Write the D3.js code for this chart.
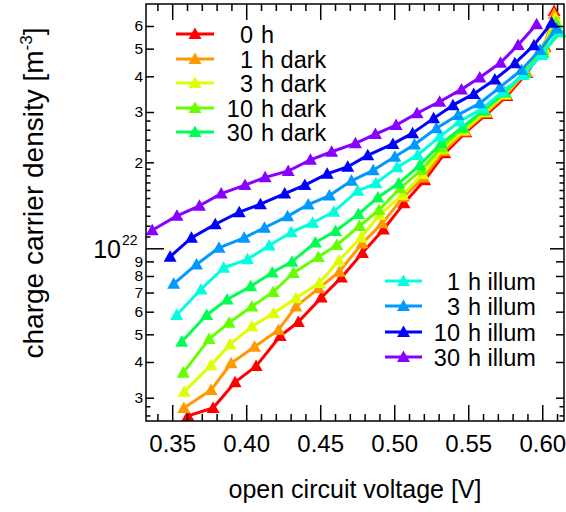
<!DOCTYPE html>
<html><head><meta charset="utf-8">
<script src="https://cdn.jsdelivr.net/npm/d3@7"></script>
<style>
body{margin:0;background:#fff}
svg{display:block}
text{font-family:"Liberation Sans",Arial,Helvetica,sans-serif;fill:#000}
</style>
</head><body><svg id="c" width="566" height="512"></svg>
<script>
// ---- data: open circuit voltage [V] and carrier density [10^22 m^-3] ----
const seriesNames = ["0 h","1 h dark","3 h dark","10 h dark","30 h dark","1 h illum","3 h illum","10 h illum","30 h illum"];
const seriesColors = ["#ff0000","#ff9900","#ddff00","#66ff00","#00ff55","#00ffdd","#0099ff","#0000ff","#8800ff"];

const v0h = [0.3606,0.3776,0.3925,0.4067,0.4230,0.4352,0.4507,0.4643,0.4785,0.4927,0.5066,0.5205,0.5341,0.5483,0.5625,0.5761,0.5896,0.6018,0.6080];
const n0h = [0.259,0.276,0.340,0.387,0.493,0.552,0.672,0.790,0.963,1.163,1.437,1.73,2.15,2.55,2.95,3.41,4.11,5.07,6.77];

const v1hDark = [0.3579,0.3762,0.3898,0.4056,0.4218,0.4336,0.4489,0.4629,0.4783,0.4919,0.5063,0.5199,0.5334,0.5476,0.5619,0.5754,0.5890,0.6011,0.6080];
const n1hDark = [0.276,0.319,0.396,0.452,0.518,0.625,0.724,0.828,1.041,1.223,1.516,1.77,2.19,2.57,2.98,3.44,4.14,5.07,6.61];

const v3hDark = [0.3581,0.3762,0.3891,0.4038,0.4184,0.4336,0.4494,0.4626,0.4776,0.4900,0.5056,0.5192,0.5327,0.5470,0.5612,0.5747,0.5883,0.6011,0.6087];
const n3hDark = [0.315,0.390,0.461,0.532,0.592,0.668,0.756,0.906,1.091,1.308,1.537,1.82,2.23,2.59,3.00,3.47,4.14,5.02,6.40];

const v10hDark = [0.3575,0.3749,0.3884,0.4038,0.4182,0.4318,0.4487,0.4612,0.4765,0.4897,0.5040,0.5183,0.5320,0.5463,0.5605,0.5747,0.5883,0.6005,0.6093];
const n10hDark = [0.367,0.481,0.549,0.626,0.703,0.820,0.932,1.027,1.197,1.362,1.622,1.88,2.26,2.62,3.02,3.50,4.14,4.94,6.19];

const v30hDark = [0.3564,0.3733,0.3871,0.4030,0.4176,0.4309,0.4467,0.4604,0.4758,0.4889,0.5030,0.5173,0.5318,0.5463,0.5605,0.5747,0.5883,0.6005,0.6120];
const n30hDark = [0.471,0.584,0.662,0.736,0.823,0.898,1.048,1.150,1.318,1.506,1.689,1.956,2.33,2.66,3.05,3.52,4.11,4.83,5.71];

const v1hIllum = [0.3530,0.3694,0.3848,0.4009,0.4155,0.4304,0.4449,0.4592,0.4753,0.4876,0.5019,0.5158,0.5307,0.5442,0.5596,0.5732,0.5871,0.5996,0.6108];
const n1hIllum = [0.584,0.718,0.855,0.915,1.023,1.138,1.229,1.343,1.589,1.689,1.92,2.12,2.46,2.78,3.09,3.53,4.04,4.75,5.74];

const v3hIllum = [0.3510,0.3664,0.3816,0.3986,0.4123,0.4279,0.4419,0.4562,0.4711,0.4858,0.5004,0.5137,0.5285,0.5431,0.5578,0.5713,0.5860,0.5984,0.6098];
const n3hIllum = [0.751,0.878,1.004,1.088,1.18,1.294,1.423,1.53,1.723,1.875,2.09,2.31,2.63,2.93,3.22,3.66,4.21,4.94,5.88];

const v10hIllum = [0.3486,0.3630,0.3791,0.3953,0.4096,0.4260,0.4396,0.4547,0.4686,0.4821,0.4991,0.5124,0.5266,0.5397,0.5537,0.5680,0.5815,0.5944,0.6064];
const n10hIllum = [0.935,1.088,1.214,1.338,1.427,1.555,1.665,1.823,1.93,2.115,2.32,2.53,2.85,3.17,3.47,3.90,4.44,5.14,6.16];

const v30hIllum = [0.3365,0.3532,0.3684,0.3831,0.3992,0.4128,0.4284,0.4434,0.4577,0.4738,0.4873,0.5013,0.5154,0.5307,0.5454,0.5578,0.5718,0.5837,0.5962];
const n30hIllum = [1.156,1.299,1.409,1.554,1.665,1.772,1.865,2.04,2.178,2.33,2.51,2.70,2.97,3.26,3.60,3.96,4.46,5.15,6.09];

const xMajorTicks = [0.35,0.40,0.45,0.50,0.55,0.60];
const xMinorTicks = [0.34,0.36,0.37,0.38,0.39,0.41,0.42,0.43,0.44,0.46,0.47,0.48,0.49,0.51,0.52,0.53,0.54,0.56,0.57,0.58,0.59,0.61];
const yLabelTicks = [0.3,0.4,0.5,0.6,0.7,0.8,0.9,2,3,4,5,6];
const yLabelText = ["3","4","5","6","7","8","9","2","3","4","5","6"];
const yMinorTicks = [0.26,0.28,1.1,1.2,1.3,1.4,1.5,1.6,1.7,1.8,1.9,2.2,2.4,2.6,2.8];

const allV = [v0h,v1hDark,v3hDark,v10hDark,v30hDark,v1hIllum,v3hIllum,v10hIllum,v30hIllum];
const allN = [n0h,n1hDark,n3hDark,n10hDark,n30hDark,n1hIllum,n3hIllum,n10hIllum,n30hIllum];
const series = seriesNames.map((name,i)=>({name,color:seriesColors[i],pts:allV[i].map((v,j)=>({v,n:allN[i][j]}))}));

// ---- layout ----
const L=146,R=564,T=4,B=421;
const svg = d3.select("#c");
const x = d3.scaleLinear().domain([0.3323,0.6147]).range([L,R]);
const y = d3.scaleLog().domain([0.2486,7.164]).range([B,T]);

const tri = (cx,cy)=>`M${cx},${cy-6.5}L${cx+6.5},${cy+5}L${cx-6.5},${cy+5}Z`;

// data
const plot = svg.append("g");
const line = d3.line().x(d=>x(d.v)).y(d=>y(d.n));
series.forEach(s=>{
  const g = plot.append("g");
  g.append("path").attr("d",line(s.pts)).attr("fill","none").attr("stroke",s.color).attr("stroke-width",3).attr("stroke-linejoin","round");
  g.selectAll("path.m").data(s.pts).join("path").attr("class","m")
    .attr("d",d=>tri(x(d.v),y(d.n))).attr("fill",s.color);
});

// axes
function styleAxis(g){ g.select(".domain").remove(); g.selectAll("line").attr("stroke","#000").attr("stroke-width",1.5); }
svg.append("g").attr("transform",`translate(0,${B})`)
  .call(d3.axisBottom(x).tickValues(xMajorTicks).tickSize(-16).tickPadding(14).tickFormat(d3.format(".2f")))
  .call(styleAxis).selectAll("text").attr("font-size",24).attr("font-family","Liberation Sans, Arial, sans-serif");
svg.append("g").attr("transform",`translate(0,${B})`)
  .call(d3.axisBottom(x).tickValues(xMinorTicks).tickSize(-7).tickFormat("")).call(styleAxis);
svg.append("g").attr("transform",`translate(0,${T})`)
  .call(d3.axisTop(x).tickValues(xMajorTicks).tickSize(-16).tickFormat("")).call(styleAxis);
svg.append("g").attr("transform",`translate(0,${T})`)
  .call(d3.axisTop(x).tickValues(xMinorTicks).tickSize(-7).tickFormat("")).call(styleAxis);

svg.append("g").attr("transform",`translate(${L},0)`)
  .call(d3.axisLeft(y).tickValues(yLabelTicks).tickSize(-8).tickPadding(3).tickFormat((d,i)=>yLabelText[i]))
  .call(styleAxis).selectAll("text").attr("font-size",15.5).attr("font-family","Liberation Sans, Arial, sans-serif");
svg.append("g").attr("transform",`translate(${L},0)`)
  .call(d3.axisLeft(y).tickValues([1]).tickSize(-18).tickFormat("")).call(styleAxis);
svg.append("g").attr("transform",`translate(${L},0)`)
  .call(d3.axisLeft(y).tickValues(yMinorTicks).tickSize(-4.5).tickFormat("")).call(styleAxis);
svg.append("g").attr("transform",`translate(${R},0)`)
  .call(d3.axisRight(y).tickValues(yLabelTicks).tickSize(-8).tickFormat("")).call(styleAxis);
svg.append("g").attr("transform",`translate(${R},0)`)
  .call(d3.axisRight(y).tickValues([1]).tickSize(-14).tickFormat("")).call(styleAxis);
svg.append("g").attr("transform",`translate(${R},0)`)
  .call(d3.axisRight(y).tickValues(yMinorTicks).tickSize(-4.5).tickFormat("")).call(styleAxis);

// 10^22 label
svg.append("text").attr("x",121).attr("y",y(1)+10).attr("text-anchor","end").attr("font-size",25).text("10");
svg.append("text").attr("x",122).attr("y",y(1)-3).attr("font-size",14).text("22");

// frame
svg.append("rect").attr("x",L).attr("y",T).attr("width",R-L).attr("height",B-T)
  .attr("fill","none").attr("stroke","#000").attr("stroke-width",1.5);

// titles
svg.append("text").attr("x",(L+R)/2).attr("y",498).attr("text-anchor","middle").attr("font-size",25).text("open circuit voltage [V]");
const yt = svg.append("text").attr("transform","translate(43,193) rotate(-90)").attr("text-anchor","middle").attr("font-size",28);
yt.append("tspan").text("charge carrier density [m");
yt.append("tspan").attr("font-size",17).attr("dy",-11).text("-3");
yt.append("tspan").attr("dy",11).text("]");

// legends
function legend(items, lx0, lx1, numEnd, rows){
  items.forEach((s,i)=>{
    const cy = rows[i];
    svg.append("line").attr("x1",lx0).attr("x2",lx1).attr("y1",cy).attr("y2",cy).attr("stroke",s.color).attr("stroke-width",3);
    svg.append("path").attr("d",tri((lx0+lx1)/2,cy)).attr("fill",s.color);
    const parts = s.name.split(" ");
    svg.append("text").attr("x",numEnd).attr("y",cy+8.5).attr("text-anchor","end").attr("font-size",23.5).text(parts[0]);
    svg.append("text").attr("x",numEnd+8).attr("y",cy+8.5).attr("font-size",23.5).text(parts.slice(1).join(" "));
  });
}
legend(series.slice(0,5),176,214,253,[34,59,83,108,132]);
legend(series.slice(5),385,422,460,[281,306,332,357]);
</script>
</body></html>
